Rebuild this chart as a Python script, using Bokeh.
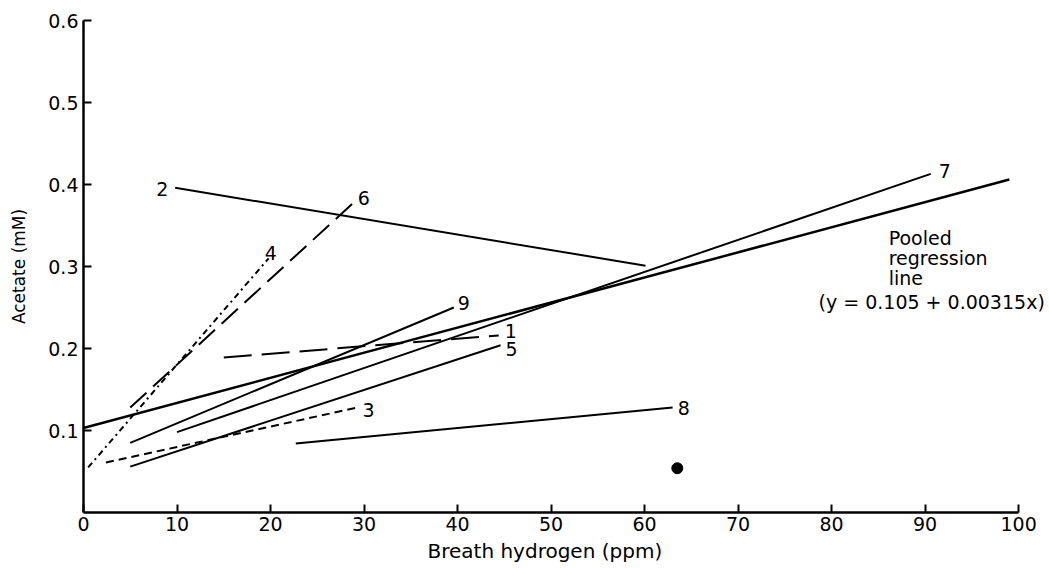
from bokeh.plotting import figure
from bokeh.models import LinearAxis, Range1d, FixedTicker, Label, ColumnDataSource, Title
from bokeh.core.properties import value
from bokeh.embed import file_html
from bokeh.resources import INLINE

# ---- data ----
subjects = ["1", "2", "3", "4", "5", "6", "7", "8", "9"]
x_start = [15.0, 9.8, 2.4, 0.5, 5.0, 5.0, 10.0, 22.7, 5.0]
y_start = [0.189, 0.396, 0.061, 0.055, 0.056, 0.128, 0.098, 0.084, 0.085]
x_end = [44.4, 60.1, 29.3, 19.8, 44.6, 28.8, 90.6, 63.0, 39.6]
y_end = [0.216, 0.301, 0.128, 0.310, 0.204, 0.377, 0.413, 0.128, 0.250]
label_at_start = [False, True, False, False, False, False, False, False, False]

pooled_x = [0.0, 99.0]
pooled_y = [0.103, 0.406]
pooled_note = ["Pooled", "regression", "line"]
pooled_equation = "(y = 0.105 + 0.00315x)"

single_x = [63.5]
single_y = [0.054]

x_ticks = [0, 10, 20, 30, 40, 50, 60, 70, 80, 90, 100]
y_ticks = [0.1, 0.2, 0.3, 0.4, 0.5, 0.6]
x_title = "Breath hydrogen (ppm)"
y_title = "Acetate (mM)"

# ---- styles ----
dashes = ["28 10", "solid", "8 5", "6 4 2 4", "solid", "22 9", "solid", "solid", "solid"]
lab_dx = [6, -19, 5, -4, 5, 5, 8, 5, 4]
lab_dy = [-4, 1, 2, -5, 4, -5, -3, 0, -5]
FONT = "DejaVu Sans"

p = figure(width=1049, height=568,
           x_range=Range1d(0, 103.3), y_range=Range1d(0, 0.6),
           x_axis_location=None, y_axis_location=None,
           output_backend="svg", toolbar_location=None,
           min_border_left=83, min_border_right=0,
           min_border_top=20, min_border_bottom=56)
p.outline_line_color = None
p.background_fill_color = "white"
p.border_fill_color = "white"
p.grid.grid_line_color = None

xa = LinearAxis(bounds=(0, 100), ticker=FixedTicker(ticks=x_ticks))
ya = LinearAxis(bounds=(0, 0.6), ticker=FixedTicker(ticks=y_ticks),
                axis_label=y_title)
for ax in (xa, ya):
    ax.axis_line_width = 2.5
    ax.axis_line_color = "black"
    ax.major_tick_line_width = 2
    ax.major_tick_in = 8
    ax.major_tick_out = 0
    ax.minor_tick_line_color = None
    ax.major_label_text_font = FONT
    ax.major_label_text_color = "black"
    ax.major_label_text_font_size = "19px"
    ax.axis_label_text_font = FONT
    ax.axis_label_text_font_style = "normal"
    ax.axis_label_text_color = "black"
xa.major_label_standoff = 4
ya.major_label_standoff = 5
ya.axis_label_text_font_size = "17px"
ya.axis_label_standoff = 16
p.add_layout(xa, "below")
p.add_layout(ya, "left")

# x-axis title, under the tick labels
p.add_layout(Title(text=x_title, align="left", offset=344, standoff=6,
                   text_font=FONT, text_font_size="20px",
                   text_font_style="normal", text_color="black"), "below")

# subject regression lines
for i in range(len(subjects)):
    p.line([x_start[i], x_end[i]], [y_start[i], y_end[i]],
           line_color="black", line_width=2, line_dash=dashes[i])

# pooled regression line
p.line(pooled_x, pooled_y, line_color="black", line_width=2.5)

# isolated point
p.scatter(single_x, single_y, size=11, color="black")

# subject labels
lx = [x_start[i] if label_at_start[i] else x_end[i] for i in range(len(subjects))]
ly = [y_start[i] if label_at_start[i] else y_end[i] for i in range(len(subjects))]
src = ColumnDataSource(dict(x=lx, y=ly, t=subjects, dx=lab_dx, dy=lab_dy))
p.text(x="x", y="y", text="t", x_offset="dx", y_offset="dy", source=src,
       text_font=value(FONT), text_font_size="19px", text_align="left",
       text_baseline="middle", text_color="black")

# pooled regression annotation
note_x = 86.1
note_y = [0.335, 0.310, 0.286]
for t, yy in zip(pooled_note, note_y):
    p.add_layout(Label(x=note_x, y=yy, text=t, text_font=FONT,
                       text_font_size="19px", text_baseline="alphabetic",
                       text_color="black"))
p.add_layout(Label(x=78.6, y=0.257, text=pooled_equation, text_font=FONT,
                   text_font_size="19px", text_baseline="alphabetic",
                   text_color="black"))

open("out.html", "w").write(file_html(p, INLINE))
